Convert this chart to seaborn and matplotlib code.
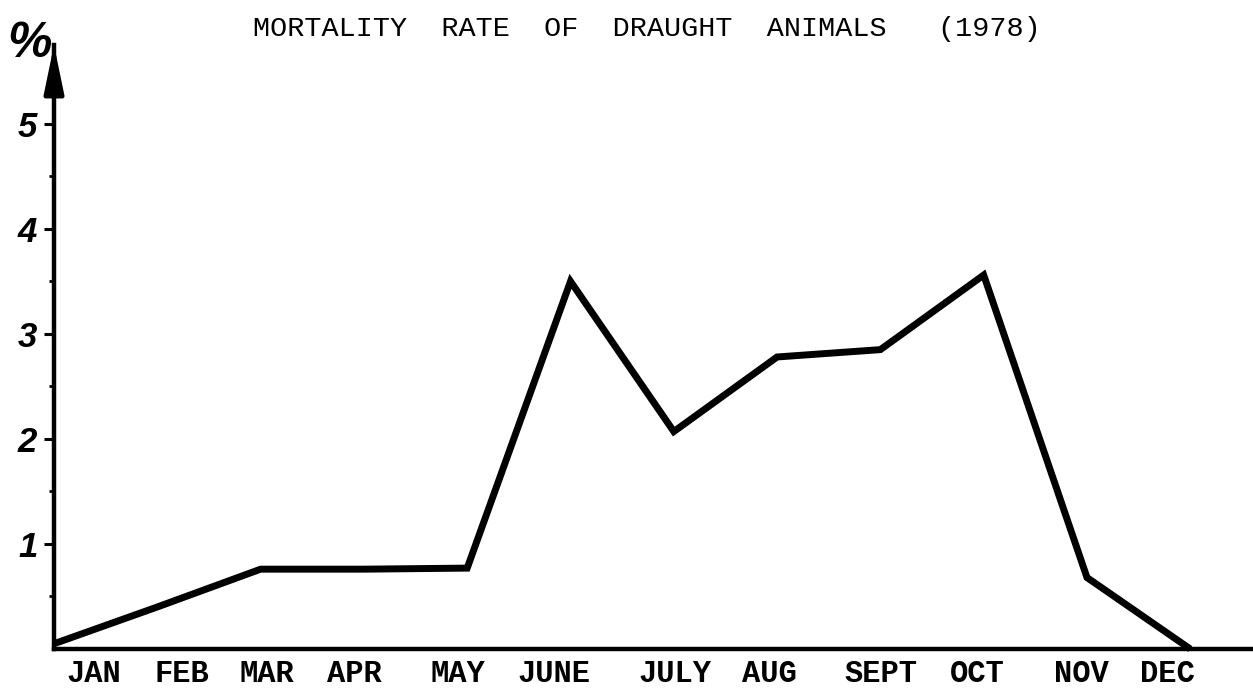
import numpy as np
import pandas as pd
import matplotlib
matplotlib.use("Agg")
import matplotlib.pyplot as plt
import seaborn as sns

# Monthly mortality of draught animals, 1978 (%)
months = ["JAN", "FEB", "MAR", "APR", "MAY", "JUNE",
          "JULY", "AUG", "SEPT", "OCT", "NOV", "DEC"]
mortality = [0.05, 0.40, 0.76, 0.76, 0.77, 3.50,
             2.07, 2.78, 2.85, 3.56, 0.68, 0.0]
y_major = [1, 2, 3, 4, 5]
y_minor = [0.5, 1.5, 2.5, 3.5, 4.5]
title = "MORTALITY  RATE  OF  DRAUGHT  ANIMALS   (1978)"

# typed month labels sit slightly off the month grid
label_x = [0.39, 1.24, 2.06, 2.91, 3.91, 4.84, 6.01, 6.93, 8.01, 8.94, 9.95, 10.78]

W, H = 1253, 690
sns.set_theme(style="white")
fig = plt.figure(figsize=(W / 100, H / 100), dpi=100)
fig.patch.set_facecolor("white")

ax_left, ax_bottom, ax_top = 54, 41, 645
px_per_month = 103.3
ax = fig.add_axes([ax_left / W, ax_bottom / H, (W - ax_left) / W, (ax_top - ax_bottom) / H])
ax.set_facecolor("white")

df = pd.DataFrame({"month": np.arange(len(months)), "rate": mortality})
sns.lineplot(data=df, x="month", y="rate", ax=ax, color="black",
             linewidth=5.0, solid_joinstyle="miter", solid_capstyle="butt",
             clip_on=False)

ax.set_xlim(0, (W - ax_left) / px_per_month)
ax.set_ylim(0, 5.75)

for side in ("top", "right"):
    ax.spines[side].set_visible(False)
for side in ("left", "bottom"):
    ax.spines[side].set_color("black")
    ax.spines[side].set_linewidth(3.2)

# arrow head at the top of the y axis
ax.annotate("", xy=(0, 1.0), xycoords="axes fraction",
            xytext=(0, 0.93), textcoords="axes fraction",
            arrowprops=dict(arrowstyle="-|>,head_length=1.45,head_width=0.3",
                            mutation_scale=20, color="black", lw=3.2,
                            shrinkA=0, shrinkB=0))

ax.set_yticks(y_major)
ax.set_yticks(y_minor, minor=True)
ax.set_yticklabels([str(v) for v in y_major],
                   fontdict=dict(family="Liberation Sans", weight="bold",
                                 style="italic", size=25))
ax.tick_params(axis="y", which="major", direction="out", left=True,
               length=7, width=2.2, color="black", labelcolor="black", pad=5)
ax.tick_params(axis="y", which="minor", direction="out", left=True,
               length=3.5, width=2.0, color="black")

ax.set_xticks(label_x)
ax.set_xticklabels(months, fontdict=dict(family="Liberation Mono",
                                         weight="bold", size=22))
ax.tick_params(axis="x", which="both", length=0, pad=7,
               colors="black", labelcolor="black")

ax.set_xlabel("")
ax.set_ylabel("")

fig.text(253 / W, 1 - 29 / H, title, ha="left", va="center",
         family="Liberation Mono", size=20.5, color="black")
fig.text(30 / W, 1 - 44 / H, "%", ha="center", va="center",
         family="Liberation Sans", weight="bold", style="italic",
         size=36, color="black")

fig.savefig("out.png", dpi=100, facecolor="white")
